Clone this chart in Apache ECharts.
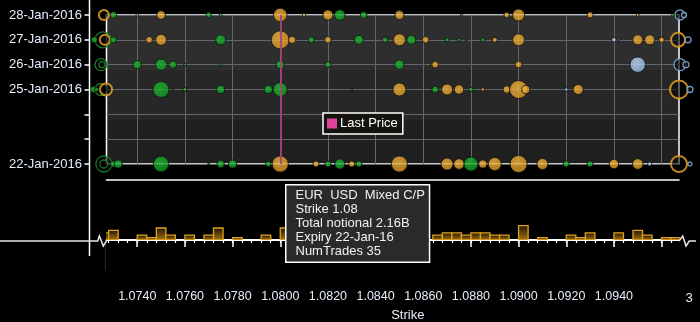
<!DOCTYPE html>
<html>
<head>
<meta charset="utf-8">
<script src="https://cdn.jsdelivr.net/npm/echarts@6/dist/echarts.min.js"></script>
<style>
  html, body { margin: 0; padding: 0; background: #000; }
  #chart { width: 700px; height: 322px; }
</style>
</head>
<body>
<div id="chart"></div>
<script>
// Expiry rows, bottom to top; weekend rows keep a tick but no label
const expiryDates = ['22-Jan-2016', '23-Jan-2016', '24-Jan-2016', '25-Jan-2016', '26-Jan-2016', '27-Jan-2016', '28-Jan-2016'];
const labelledExpiries = ['22-Jan-2016', '25-Jan-2016', '26-Jan-2016', '27-Jan-2016', '28-Jan-2016'];

// Strike axis
const strikeMin = 1.07271;
const strikeMax = 1.09673;
const strikeLabels = [1.074, 1.076, 1.078, 1.080, 1.082, 1.084, 1.086, 1.088, 1.090, 1.092, 1.094];
const strikeMajorTicks = [1.074, 1.076, 1.078, 1.080, 1.082, 1.084, 1.086, 1.088, 1.090, 1.092, 1.094, 1.096];
const strikeMinorStep = 0.0004;
const lastPrice = 1.08163;

// Trades: [strike, expiry, total notional (bn)]
const mixedTrades = [
  [1.0750, '28-Jan-2016', 0.61], [1.0800, '28-Jan-2016', 1.48], [1.0810, '28-Jan-2016', 0.096],
  [1.0820, '28-Jan-2016', 0.83], [1.0850, '28-Jan-2016', 0.67], [1.0876, '28-Jan-2016', 0.033],
  [1.0895, '28-Jan-2016', 0.24], [1.0900, '28-Jan-2016', 1.19], [1.0930, '28-Jan-2016', 0.30],
  [1.0950, '28-Jan-2016', 0.074],
  [1.0745, '27-Jan-2016', 0.36], [1.0750, '27-Jan-2016', 1.00], [1.0800, '27-Jan-2016', 2.68],
  [1.0805, '27-Jan-2016', 0.45], [1.0820, '27-Jan-2016', 0.36], [1.0850, '27-Jan-2016', 1.19],
  [1.0861, '27-Jan-2016', 0.36], [1.0890, '27-Jan-2016', 0.21], [1.0900, '27-Jan-2016', 1.19],
  [1.0950, '27-Jan-2016', 0.83], [1.0955, '27-Jan-2016', 0.83], [1.0960, '27-Jan-2016', 0.24],
  [1.0862, '26-Jan-2016', 0.056], [1.0865, '26-Jan-2016', 0.36], [1.0900, '26-Jan-2016', 0.36],
  [1.0850, '25-Jan-2016', 1.40], [1.0870, '25-Jan-2016', 1.00], [1.0875, '25-Jan-2016', 0.73],
  [1.0885, '25-Jan-2016', 0.096], [1.0895, '25-Jan-2016', 0.45], [1.0900, '25-Jan-2016', 2.68],
  [1.0903, '25-Jan-2016', 0.53], [1.0925, '25-Jan-2016', 0.83],
  [1.0800, '22-Jan-2016', 2.16], [1.0815, '22-Jan-2016', 0.30], [1.0830, '22-Jan-2016', 0.30],
  [1.0850, '22-Jan-2016', 2.12], [1.0870, '22-Jan-2016', 1.19], [1.0875, '22-Jan-2016', 0.93],
  [1.0885, '22-Jan-2016', 0.53], [1.0890, '22-Jan-2016', 1.40], [1.0900, '22-Jan-2016', 2.39],
  [1.0910, '22-Jan-2016', 1.00], [1.0940, '22-Jan-2016', 0.73], [1.0950, '22-Jan-2016', 0.93]
];
const callTrades = [
  [1.0730, '28-Jan-2016', 0.36], [1.0770, '28-Jan-2016', 0.24], [1.0775, '28-Jan-2016', 0.074],
  [1.0825, '28-Jan-2016', 0.93], [1.0835, '28-Jan-2016', 0.36], [1.09648, '28-Jan-2016', 0.074],
  [1.0722, '27-Jan-2016', 0.30], [1.0730, '27-Jan-2016', 0.30], [1.0775, '27-Jan-2016', 0.83],
  [1.0813, '27-Jan-2016', 0.30], [1.0833, '27-Jan-2016', 0.67], [1.0844, '27-Jan-2016', 0.24],
  [1.0855, '27-Jan-2016', 0.67], [1.0870, '27-Jan-2016', 0.13], [1.0875, '27-Jan-2016', 0.096],
  [1.0878, '27-Jan-2016', 0.033], [1.0885, '27-Jan-2016', 0.13],
  [1.0740, '26-Jan-2016', 0.53], [1.0750, '26-Jan-2016', 1.07], [1.0755, '26-Jan-2016', 0.45],
  [1.0760, '26-Jan-2016', 0.056], [1.0775, '26-Jan-2016', 0.056], [1.0800, '26-Jan-2016', 0.53],
  [1.0820, '26-Jan-2016', 0.30], [1.0850, '26-Jan-2016', 0.73],
  [1.07216, '25-Jan-2016', 0.30], [1.0723, '25-Jan-2016', 0.13], [1.0750, '25-Jan-2016', 2.12],
  [1.0755, '25-Jan-2016', 0.033], [1.0760, '25-Jan-2016', 0.13], [1.0775, '25-Jan-2016', 0.53],
  [1.0795, '25-Jan-2016', 0.53], [1.0800, '25-Jan-2016', 1.62], [1.0830, '25-Jan-2016', 0.033],
  [1.0865, '25-Jan-2016', 0.36], [1.0880, '25-Jan-2016', 0.17],
  [1.0730, '22-Jan-2016', 0.30], [1.0732, '22-Jan-2016', 0.53], [1.0750, '22-Jan-2016', 1.96],
  [1.0770, '22-Jan-2016', 0.033], [1.0775, '22-Jan-2016', 0.45], [1.0780, '22-Jan-2016', 0.53],
  [1.0795, '22-Jan-2016', 0.24], [1.0820, '22-Jan-2016', 0.30], [1.0825, '22-Jan-2016', 0.83],
  [1.0833, '22-Jan-2016', 0.30], [1.0880, '22-Jan-2016', 1.62], [1.0920, '22-Jan-2016', 0.30],
  [1.0930, '22-Jan-2016', 0.30]
];
const putTrades = [
  [1.0740, '28-Jan-2016', 0.056],
  [1.0940, '27-Jan-2016', 0.17], [1.0942, '27-Jan-2016', 0.033],
  [1.0950, '26-Jan-2016', 1.96],
  [1.0920, '25-Jan-2016', 0.096],
  [1.0955, '22-Jan-2016', 0.13]
];

// Trades struck outside the visible strike range, pinned to the plot edges
const offscaleCalls = [
  [1.07256, '27-Jan-2016', 2.12], [1.07248, '26-Jan-2016', 1.19], [1.07252, '26-Jan-2016', 0.30],
  [1.07248, '25-Jan-2016', 1.19], [1.0726, '22-Jan-2016', 2.12], [1.0726, '22-Jan-2016', 0.53]
];
const offscaleMixed = [
  [1.0726, '28-Jan-2016', 0.83], [1.07264, '27-Jan-2016', 0.83], [1.07269, '25-Jan-2016', 1.19],
  [1.09669, '27-Jan-2016', 1.62], [1.09673, '25-Jan-2016', 2.68], [1.09673, '22-Jan-2016', 2.12]
];
const offscalePuts = [
  [1.09677, '28-Jan-2016', 0.83], [1.09694, '28-Jan-2016', 0.21], [1.09711, '27-Jan-2016', 0.30],
  [1.09677, '26-Jan-2016', 1.19], [1.09702, '26-Jan-2016', 0.30], [1.09719, '25-Jan-2016', 0.30],
  [1.09719, '22-Jan-2016', 0.13]
];

// Trade count per strike bucket: bucket start strike and count
const bucketWidth = 0.0004;
const bucketStarts = [1.0724, 1.0728, 1.0740, 1.0744, 1.0748, 1.0752, 1.0760, 1.0768, 1.0772, 1.0780,
  1.0792, 1.0800, 1.0864, 1.0868, 1.0872, 1.0876, 1.0880, 1.0884, 1.0888, 1.0892,
  1.0900, 1.0908, 1.0920, 1.0924, 1.0928, 1.0940, 1.0948, 1.0952, 1.0960, 1.0964];
const bucketCounts = [3, 4, 2, 1, 5, 2, 2, 2, 5, 1,
  2, 5, 2, 3, 3, 2, 3, 3, 2, 2,
  6, 1, 2, 1, 3, 3, 4, 2, 1, 1];

// Trade shown in the hover box
const focusTrade = { pair: 'EUR  USD', kind: 'Mixed C/P', strike: 1.08, expiry: '22-Jan-2016', notional: 2.16, numTrades: 35 };

const FONT = '"Liberation Sans", Arial, sans-serif';
const LABEL = '#e4eefa';
const GRID_LINE = '#63676d';

const minorTicks = [];
for (let s = 1.0728; s < strikeMax; s += strikeMinorStep) minorTicks.push(+s.toFixed(4));

const bubbleSize = v => 11 * Math.sqrt(v[2]);
const ball = (light, base) => ({
  type: 'radial', x: 0.42, y: 0.38, r: 0.7,
  colorStops: [{ offset: 0, color: light }, { offset: 1, color: base }]
});

const focus = mixedTrades.find(t => t[0] === focusTrade.strike && t[1] === focusTrade.expiry);
const tipLines = [
  focusTrade.pair + '  ' + focusTrade.kind,
  'Strike ' + focus[0],
  'Total notional ' + focus[2].toFixed(2) + 'B',
  'Expiry ' + focus[1].replace('-2016', '-16'),
  'NumTrades ' + focusTrade.numTrades
];

const chart = echarts.init(document.getElementById('chart'), null, { renderer: 'canvas' });

chart.setOption({
  backgroundColor: '#000',
  animation: false,
  textStyle: { fontFamily: FONT },
  grid: [
    {
      left: 106.5, right: 21, top: 15, bottom: 158, show: true,
      containLabel: false, outerBoundsMode: 'none',
      borderColor: '#fff', borderWidth: 1.5,
      backgroundColor: {
        type: 'linear', x: 0, y: 0, x2: 0, y2: 1,
        colorStops: [
          { offset: 0, color: '#2e2e2e' }, { offset: 0.37, color: '#2e2e2e' },
          { offset: 0.37, color: '#272727' }, { offset: 0.7, color: '#272727' },
          { offset: 0.7, color: '#1f1f1f' }, { offset: 1, color: '#1f1f1f' }
        ]
      }
    },
    { left: 106.5, right: 21, top: 180, bottom: 82, containLabel: false, outerBoundsMode: 'none' }
  ],
  legend: {
    data: [{ name: 'Last Price', icon: 'rect' }],
    left: 323, top: 113,
    padding: [4, 5, 4, 4],
    itemWidth: 10, itemHeight: 10,
    selectedMode: false,
    backgroundColor: '#15130e',
    borderColor: '#fff', borderWidth: 1.5,
    textStyle: { color: '#fff', fontSize: 13, fontFamily: FONT, padding: [0, 0, 0, -2] }
  },
  xAxis: [
    {
      gridIndex: 0, type: 'value', min: strikeMin, max: strikeMax,
      axisLine: { show: false },
      axisTick: { show: false, customValues: strikeMajorTicks },
      axisLabel: { show: false },
      splitLine: { show: true, lineStyle: { color: GRID_LINE, width: 1 } }
    },
    {
      gridIndex: 1, type: 'value', min: strikeMin, max: strikeMax, position: 'bottom',
      axisLine: { show: true, lineStyle: { color: '#fff', width: 2 } },
      axisTick: { show: true, customValues: strikeMajorTicks, length: 7, lineStyle: { color: '#fff', width: 1.5 } },
      axisLabel: {
        customValues: strikeLabels, margin: 50, color: LABEL, fontSize: 12.5, fontFamily: FONT,
        formatter: v => v.toFixed(4)
      },
      splitLine: { show: false },
      name: 'Strike', nameLocation: 'middle', nameGap: 69,
      nameTextStyle: { color: LABEL, fontSize: 13, fontFamily: FONT, padding: [0, 0, 0, 30] }
    },
    {
      gridIndex: 1, type: 'value', min: strikeMin, max: strikeMax, position: 'bottom',
      axisLine: { show: false },
      axisTick: { show: true, customValues: minorTicks, length: 3, lineStyle: { color: '#fff', width: 1.2 } },
      axisLabel: { show: false },
      splitLine: { show: false }
    },
    {
      gridIndex: 1, type: 'value', min: strikeMin, max: strikeMax, position: 'top',
      axisLine: { show: true, lineStyle: { color: '#fff', width: 1.5 } },
      axisTick: { show: false }, axisLabel: { show: false }, splitLine: { show: false }
    }
  ],
  yAxis: [
    {
      gridIndex: 0, type: 'category', data: expiryDates, boundaryGap: false,
      position: 'left', offset: 17,
      axisLine: { show: false },
      axisTick: { show: true, interval: 0, length: 5, lineStyle: { color: '#fff', width: 1.5 } },
      axisLabel: {
        interval: 0, margin: 7.5, color: LABEL, fontSize: 13, fontFamily: FONT,
        formatter: v => (labelledExpiries.includes(v) ? v : '')
      },
      splitLine: { show: true, interval: 0, lineStyle: { color: GRID_LINE, width: 1 } }
    },
    { gridIndex: 1, type: 'value', min: 0, max: 25, show: false }
  ],
  series: [
    {
      name: 'Last Price', type: 'line', xAxisIndex: 0, yAxisIndex: 0, data: [],
      color: '#e0449a', z: 1,
      markLine: {
        silent: true, symbol: ['none', 'none'], label: { show: false },
        lineStyle: { color: '#a6417d', width: 1.8, type: 'solid' },
        data: [{ xAxis: lastPrice }]
      }
    },
    {
      name: 'Off-scale calls', type: 'scatter', xAxisIndex: 0, yAxisIndex: 0, clip: false,
      data: offscaleCalls, symbolSize: bubbleSize, z: 2,
      itemStyle: { color: 'rgba(0,0,0,0.6)', borderColor: '#1f8a2a', borderWidth: 1.3, opacity: 0.85 }
    },
    {
      name: 'Off-scale mixed', type: 'scatter', xAxisIndex: 0, yAxisIndex: 0, clip: false,
      data: offscaleMixed, symbolSize: bubbleSize, z: 2,
      itemStyle: { color: 'rgba(0,0,0,0.6)', borderColor: '#d89a22', borderWidth: 2, opacity: 0.9 }
    },
    {
      name: 'Off-scale puts', type: 'scatter', xAxisIndex: 0, yAxisIndex: 0, clip: false,
      data: offscalePuts, symbolSize: bubbleSize, z: 2,
      itemStyle: { color: 'rgba(0,0,0,0.7)', borderColor: '#7fa9d6', borderWidth: 1.3, opacity: 0.9 }
    },
    {
      name: 'Mixed C/P', type: 'scatter', xAxisIndex: 0, yAxisIndex: 0, clip: false,
      data: mixedTrades, symbolSize: bubbleSize, z: 3,
      itemStyle: { color: ball('#efb544', '#d9961c'), borderColor: '#141210', borderWidth: 1 }
    },
    {
      name: 'Call', type: 'scatter', xAxisIndex: 0, yAxisIndex: 0, clip: false,
      data: callTrades, symbolSize: bubbleSize, z: 3,
      itemStyle: { color: ball('#22b934', '#0e961f'), borderColor: '#0c160c', borderWidth: 1 }
    },
    {
      name: 'Put', type: 'scatter', xAxisIndex: 0, yAxisIndex: 0, clip: false,
      data: putTrades, symbolSize: bubbleSize, z: 3,
      itemStyle: { color: ball('#c6dcf4', '#8ab4e2'), borderColor: '#121418', borderWidth: 1 }
    },
    {
      name: 'Trades per strike', type: 'custom', xAxisIndex: 1, yAxisIndex: 1, clip: true,
      data: bucketStarts.map((s, i) => [s, bucketCounts[i]]),
      renderItem: (params, api) => {
        const lo = api.value(0);
        const top = api.coord([lo, api.value(1)]);
        const bottom = api.coord([lo + bucketWidth, 0]);
        return {
          type: 'rect',
          shape: { x: top[0], y: top[1], width: bottom[0] - top[0], height: bottom[1] - top[1] },
          style: {
            fill: {
              type: 'linear', x: 0, y: 0, x2: 0, y2: 1,
              colorStops: [{ offset: 0, color: '#1c1404' }, { offset: 1, color: '#a87412' }]
            },
            stroke: '#e1a11c', lineWidth: 1.3
          }
        };
      }
    }
  ],
  graphic: [
    // strike-axis break marks and the long expiry-axis rule
    { type: 'line', z: 50, shape: { x1: 89.5, y1: 0, x2: 89.5, y2: 256 }, style: { stroke: '#fff', lineWidth: 1.5 } },
    { type: 'polyline', z: 50, shape: { points: [[0, 241], [97.7, 241], [99.4, 236], [103.3, 246], [106.5, 241]] },
      style: { stroke: '#e6e6e6', lineWidth: 1.5, fill: null } },
    { type: 'polyline', z: 50, shape: { points: [[679, 241], [682.7, 236], [686, 246], [689.3, 241], [696, 241]] },
      style: { stroke: '#e6e6e6', lineWidth: 1.5, fill: null } },
    { type: 'line', z: 50, shape: { x1: 105.3, y1: 245, x2: 105.3, y2: 271 }, style: { stroke: '#2a2a2a', lineWidth: 1 } },
    { type: 'text', z: 50, x: 689, y: 298,
      style: { text: '3', fill: LABEL, font: '13px ' + FONT, align: 'center', verticalAlign: 'middle' } },
    // hover box for the focused trade
    { type: 'text', z: 100, left: 285, top: 184,
      style: {
        text: tipLines.join('\n'), fill: '#f2f2f2', font: '13px ' + FONT, lineHeight: 14,
        backgroundColor: '#2a2a2a', borderColor: '#fff', borderWidth: 1.5, padding: [3, 4, 3, 9]
      } }
  ]
});
</script>
</body>
</html>
